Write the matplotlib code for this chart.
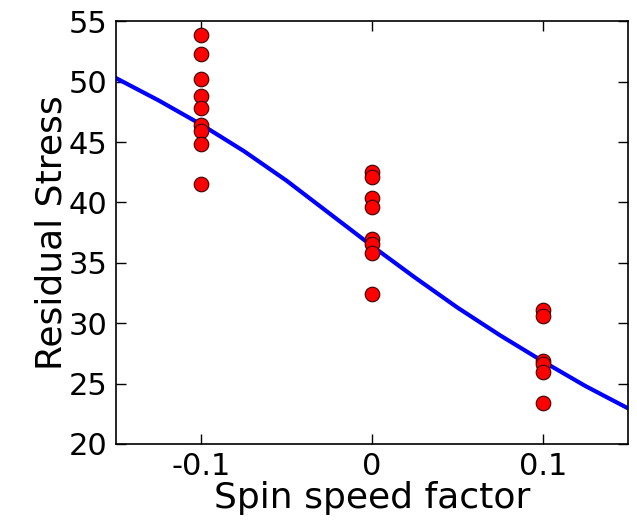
import matplotlib
matplotlib.use('Agg')
import matplotlib.pyplot as plt
import numpy as np

# measured points (spin speed factor vs residual stress)
spin_low = [-0.1] * 9
stress_low = [53.9, 52.3, 50.2, 48.8, 47.8, 46.4, 45.9, 44.8, 41.5]
spin_mid = [0.0] * 8
stress_mid = [42.5, 42.1, 40.4, 39.6, 37.0, 36.6, 35.8, 32.4]
spin_high = [0.1] * 6
stress_high = [31.1, 30.6, 26.9, 26.6, 26.0, 23.4]

# fitted model curve
fit_x = [-0.15, -0.125, -0.1, -0.075, -0.05, -0.025, 0.0, 0.025, 0.05, 0.075, 0.1, 0.125, 0.15]
fit_y = [50.3, 48.45, 46.45, 44.25, 41.8, 39.1, 36.4, 33.8, 31.3, 29.0, 26.85, 24.8, 22.95]

xticks = [-0.1, 0, 0.1]
xtick_labels = ['-0.1', '0', '0.1']
yticks = [20, 25, 30, 35, 40, 45, 50, 55]

fig = plt.figure(figsize=(6.37, 5.29), dpi=100)
ax = fig.add_axes([0.182, 0.1607, 0.804, 0.799])

ax.plot(fit_x, fit_y, color='b', linewidth=3, zorder=2)
xs = spin_low + spin_mid + spin_high
ys = stress_low + stress_mid + stress_high
ax.plot(xs, ys, 'o', color='r', markersize=10.5, markeredgecolor='#3a0000',
        markeredgewidth=0.8, zorder=3)

ax.set_xlim(-0.15, 0.15)
ax.set_ylim(20, 55)
ax.set_xticks(xticks)
ax.set_xticklabels(xtick_labels)
ax.set_yticks(yticks)
ax.tick_params(direction='in', length=7, width=1, top=True, right=True,
               labelsize=22, pad=6)
for s in ax.spines.values():
    s.set_linewidth(1.2)

ax.set_xlabel('Spin speed factor', fontsize=26, labelpad=0)
ax.set_ylabel('Residual Stress', fontsize=26, labelpad=0)

fig.savefig('out.png', dpi=100)
